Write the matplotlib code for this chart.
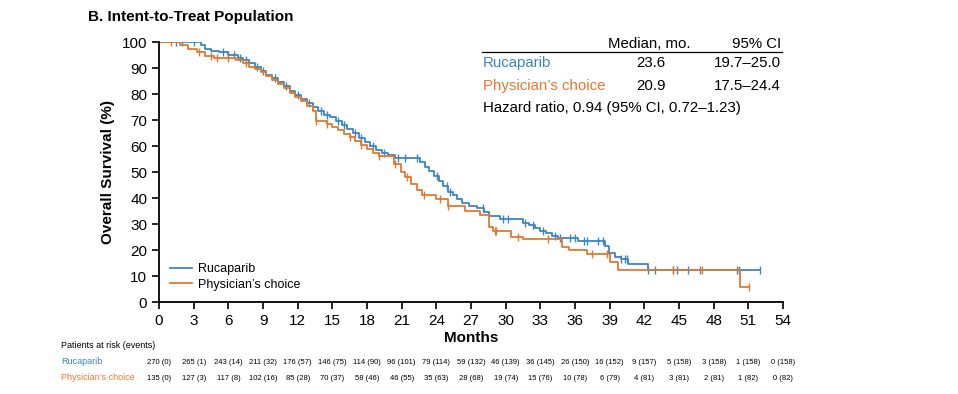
import matplotlib
matplotlib.use('Agg')
import matplotlib.pyplot as plt
import matplotlib.transforms as mtransforms
import numpy as np

plt.rcParams['font.family'] = ['Liberation Sans', 'DejaVu Sans']

BLUE = '#3a86c2'
ORANGE = '#e0782f'

# Kaplan-Meier steps (months, survival %)
ruca_t = [0, 3.6, 4.0, 4.5, 5.2, 6.0, 6.8, 7.3, 7.8, 8.3, 8.8, 9.3, 9.8, 10.3, 10.8, 11.3,
          11.8, 12.3, 12.8, 13.3, 13.8, 14.3, 14.8, 15.3, 15.8, 16.3, 16.8, 17.3, 17.8,
          18.3, 18.8, 19.3, 19.8, 20.4, 22.6, 23.0, 23.4, 23.8, 24.2, 24.6, 25.0, 25.4,
          25.8, 26.2, 26.8, 27.5, 28.1, 28.6, 29.5, 31.5, 32.0, 32.5, 33.0, 33.5, 34.0,
          34.5, 36.3, 38.6, 38.9, 39.5, 40.0, 40.6, 42.3, 52.0]
ruca_s = [100, 99, 97.5, 96.5, 96, 95, 94, 93, 92, 90.5, 89, 87.5, 86, 84.5, 83, 81,
          79.5, 78, 76.5, 75, 73.5, 72, 71, 69.5, 68, 66.5, 65, 63, 61.5,
          60, 58.5, 57.5, 56.5, 55.5, 54, 52, 50.5, 48.5, 46.5, 44.5, 42.5, 41,
          39.5, 38, 37, 36, 34.5, 33, 32, 30.5, 29.5, 28.5, 27.5, 26.5, 25.5,
          24.5, 23.5, 21.5, 18.8, 17.5, 16.5, 14.5, 12.2, 12.2]
ruca_cens = [1.5, 2.0, 3.0, 5.5, 6.0, 6.5, 7.0, 7.5, 8.5, 9.0, 10.0, 11.0, 12.0, 13.0,
             14.0, 14.5, 15.5, 16.0, 17.0, 17.5, 18.5, 19.5, 20.7, 21.3, 22.3, 24.1,
             24.9, 25.2, 28.0, 29.8, 30.2, 31.7, 32.4, 33.2, 34.3, 34.7, 35.6, 36.0,
             36.8, 37.0, 38.0, 38.4, 40.0, 40.3, 40.5, 42.3, 42.9, 44.5, 44.8, 45.8,
             46.8, 50.0, 50.2, 52.0]

phys_t = [0, 1.8, 2.5, 3.3, 4.0, 4.8, 6.7, 7.3, 7.8, 8.3, 8.8, 9.3, 9.8, 10.3, 10.8,
          11.3, 11.8, 12.3, 12.8, 13.3, 13.6, 14.5, 15.0, 15.5, 16.0, 16.5, 17.0, 17.5,
          18.0, 18.5, 19.0, 20.3, 20.9, 21.3, 21.8, 22.3, 22.8, 24.0, 25.0, 26.5, 27.8,
          28.6, 28.9, 30.5, 31.5, 34.9, 35.5, 37.0, 39.0, 39.7, 50.3, 51.1]
phys_s = [100, 99, 97.5, 96, 94.5, 93.8, 93, 92, 90.5, 89.5, 88.5, 87, 85.5, 84, 82.5,
          80.5, 79, 77.5, 75.5, 73.5, 69.5, 68.5, 67.5, 66, 64.5, 63.5, 62, 60.5,
          59, 57.5, 56, 53, 50, 48, 45.5, 43, 41, 39.5, 37, 35, 33.5,
          29, 27.5, 25, 24.3, 21, 20, 18.5, 15.5, 12.2, 5.9, 5.9]
phys_cens = [1.0, 3.5, 4.5, 5.0, 6.0, 7.5, 13.6, 14.5, 16.5, 17.5, 19.0, 20.4, 21.5,
             22.9, 24.3, 25.0, 29.1, 29.2, 31.1, 33.7, 37.5, 38.8, 44.5, 47.0, 51.1]

risk_months = list(range(0, 55, 3))
ruca_risk = ['270 (0)', '265 (1)', '243 (14)', '211 (32)', '176 (57)', '146 (75)',
             '114 (90)', '96 (101)', '79 (114)', '59 (132)', '46 (139)', '36 (145)',
             '26 (150)', '16 (152)', '9 (157)', '5 (158)', '3 (158)', '1 (158)', '0 (158)']
phys_risk = ['135 (0)', '127 (3)', '117 (8)', '102 (16)', '85 (28)', '70 (37)',
             '58 (46)', '46 (55)', '35 (63)', '28 (68)', '19 (74)', '15 (76)',
             '10 (78)', '6 (79)', '4 (81)', '3 (81)', '2 (81)', '1 (82)', '0 (82)']


def step_value(t, s, x):
    idx = np.searchsorted(t, x, side='right') - 1
    return np.asarray(s)[idx]


def fy(py):
    return 1 - py / 394


fig = plt.figure(figsize=(9.58, 3.94), dpi=100)
ax = fig.add_axes([159 / 958, 1 - 302 / 394, 624 / 958, 260 / 394])

for t, s, cens, col, lab in [(ruca_t, ruca_s, ruca_cens, BLUE, 'Rucaparib'),
                             (phys_t, phys_s, phys_cens, ORANGE, "Physician\u2019s choice")]:
    ax.step(t, s, where='post', color=col, lw=1.3, label=lab)
    ax.plot(cens, step_value(t, s, cens), ls='none', marker='|', ms=6, mew=1.0, color=col)

ax.set_xlim(0, 54)
ax.set_ylim(0, 100)
ax.set_xticks(range(0, 55, 3))
ax.set_yticks(range(0, 101, 10))
ax.spines[['top', 'right']].set_visible(False)
ax.spines[['left', 'bottom']].set_linewidth(1.3)
ax.tick_params(direction='out', length=5, width=1.2, labelsize=11)
ax.set_ylabel('Overall Survival (%)', fontsize=11, fontweight='bold', labelpad=5)
ax.set_xlabel('Months', fontsize=11, fontweight='bold', labelpad=2)

ax.legend(loc='lower left', bbox_to_anchor=(0.0, 0.0), frameon=False, fontsize=9,
          handlelength=1.7, handletextpad=0.5, labelspacing=0.3)

fig.text(88 / 958, fy(17), 'B. Intent-to-Treat Population', fontsize=11,
         fontweight='bold', va='center')

# summary table
fs = 10.8
fig.text(690 / 958, fy(44), 'Median, mo.', fontsize=fs, ha='right', va='center')
fig.text(781 / 958, fy(44), '95% CI', fontsize=fs, ha='right', va='center')
fig.add_artist(plt.Line2D([482 / 958, 782 / 958], [fy(52), fy(52)], color='black', lw=0.9))
fig.text(483 / 958, fy(63), 'Rucaparib', fontsize=fs, color=BLUE, va='center')
fig.text(651 / 958, fy(63), '23.6', fontsize=fs, ha='center', va='center')
fig.text(781 / 958, fy(63), '19.7\u201325.0', fontsize=fs, ha='right', va='center')
fig.text(483 / 958, fy(86), "Physician\u2019s choice", fontsize=fs, color=ORANGE, va='center')
fig.text(651 / 958, fy(86), '20.9', fontsize=fs, ha='center', va='center')
fig.text(781 / 958, fy(86), '17.5\u201324.4', fontsize=fs, ha='right', va='center')
fig.text(483 / 958, fy(108), 'Hazard ratio, 0.94 (95% CI, 0.72\u20131.23)', fontsize=fs,
         va='center')

# patients at risk
fig.text(61 / 958, fy(346), 'Patients at risk (events)', fontsize=6.5, va='center')
fig.text(61 / 958, fy(362), 'Rucaparib', fontsize=6.5, color=BLUE, va='center')
fig.text(61 / 958, fy(378), "Physician\u2019s choice", fontsize=6.5, color=ORANGE, va='center')
trans = mtransforms.blended_transform_factory(ax.transData, fig.transFigure)
for m, r, p in zip(risk_months, ruca_risk, phys_risk):
    ax.text(m, fy(362), r, fontsize=5.5, ha='center', va='center', transform=trans)
    ax.text(m, fy(378), p, fontsize=5.5, ha='center', va='center', transform=trans)

fig.savefig('out.png', dpi=100)
